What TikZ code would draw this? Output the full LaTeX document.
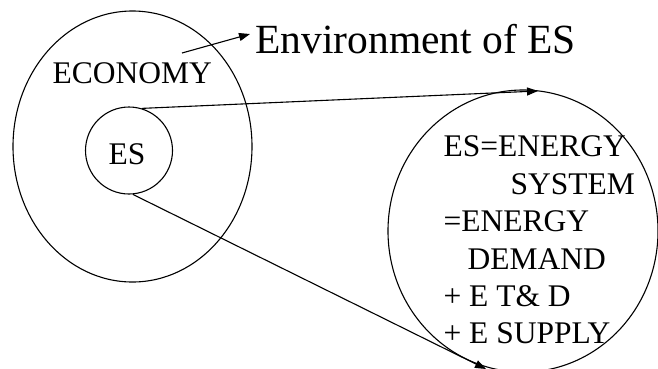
\documentclass[tikz,border=0pt]{standalone}
\usepackage{fontspec}
\setmainfont{Liberation Serif}
\usetikzlibrary{shapes.geometric,arrows.meta}
\begin{document}
\begin{tikzpicture}[x=1pt,y=-1pt, line width=1.1pt,
  circ/.style={draw, ellipse, inner sep=0pt},
  lbl/.style={inner sep=0pt, anchor=base west, font=\fontsize{31.5}{37}\selectfont},
  big/.style={inner sep=0pt, anchor=base west, font=\fontsize{41.5}{48}\selectfont},
  arr/.style={-{Triangle[length=11pt,width=8pt]}}]
\useasboundingbox (0,0) rectangle (658,368);
% circles
\node[circ, minimum width=239pt, minimum height=271pt] (eco) at (132.5,146.5) {};
\node[circ, minimum width=87pt, minimum height=87pt] (es) at (129,150.5) {};
\node[circ, minimum width=270pt, minimum height=282pt] (esb) at (523,231) {};
% labels
\node[lbl] (ecotxt) at (52,83) {ECONOMY};
\node[lbl] (estxt) at (108,164) {ES};
\node[big] (env) at (255,53) {Environment of ES};
\node[lbl] (l1) at (443,156.7) {ES=ENERGY};
\node[lbl] (l2) at (510,194.3) {SYSTEM};
\node[lbl] (l3) at (443,231.7) {=ENERGY};
\node[lbl] (l4) at (467,269.3) {DEMAND};
\node[lbl] (l5) at (443,306.7) {+ E T\& D};
\node[lbl] (l6) at (443,343.3) {+ E SUPPLY};
% connectors
\coordinate (envstart) at (182,53);
\coordinate (envtip) at (250,34);
\coordinate (toptip) at (538,91);
\coordinate (bottip) at (486,369);
\draw[arr] (envstart) -- (envtip);
\draw[arr] (es.73) -- (toptip);
\draw[arr] (es.-85) -- (bottip);
\end{tikzpicture}
\end{document}
